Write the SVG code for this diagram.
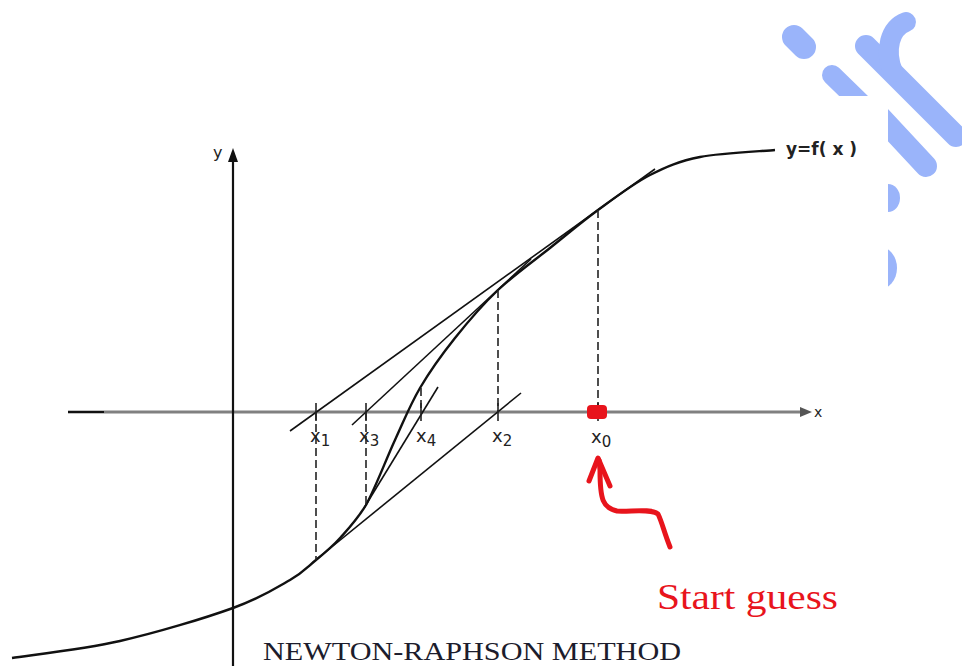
<svg xmlns="http://www.w3.org/2000/svg" width="962" height="669" viewBox="0 0 962 669">
<style>
.blue{stroke:#9ab4fa;fill:none;stroke-linecap:round}
.tan{stroke:#111;stroke-width:1.6;fill:none}
.dash{stroke:#222;stroke-width:1.6;stroke-dasharray:8 4;fill:none}
.tick{stroke:#222;stroke-width:1.6}
.lbl{font-family:"DejaVu Sans",sans-serif;fill:#222}
.sub{font-family:"DejaVu Sans",sans-serif;fill:#222;font-size:15px}
</style>
<rect width="962" height="669" fill="#fff"/>
<g id="blue-strokes">
  <line class="blue" x1="794" y1="37" x2="804" y2="47" stroke-width="24"/>
  <line class="blue" x1="832" y1="75" x2="870" y2="112" stroke-width="20"/>
  <line class="blue" x1="866" y1="46" x2="956" y2="136" stroke-width="22"/>
  <path class="blue" d="M893,72 C884,50 890,28 906,22" stroke-width="20"/>
  <line class="blue" x1="872" y1="108" x2="926" y2="166" stroke-width="22"/>
  <ellipse cx="888" cy="198" rx="12" ry="14" fill="#9ab4fa"/>
  <ellipse cx="878" cy="268" rx="19" ry="22" fill="#9ab4fa"/>
  <rect x="0" y="96" width="888" height="573" fill="#fff"/>
</g>
<g id="axes">
  <line x1="68" y1="412" x2="804" y2="412" stroke="#808080" stroke-width="3"/>
  <line x1="68" y1="412" x2="104" y2="412" stroke="#111" stroke-width="2"/>
  <path d="M812,412 L800,407 L800,417 Z" fill="#555"/>
  <line x1="233" y1="156" x2="233" y2="666" stroke="#111" stroke-width="2.2"/>
  <path d="M233,148 L228,162 L238,162 Z" fill="#111"/>
  <text class="lbl" x="213" y="158" font-size="16">y</text>
  <text class="lbl" x="814" y="417" font-size="14">x</text>
</g>
<g id="curve">
  <path d="M12,658 C30,655.2 83.2,649.3 120,641 C156.8,632.7 204.7,618.2 233,608 C261.3,597.8 276.2,588 290,580 C303.8,572 307.7,566.7 316,560 C324.3,553.3 332,547 341,537 C350,527 357.5,519 366,505 C375.2,488.3 386,459.5 395,440 C404,420.5 410,405 420,388 C430,371 442,354.3 455,338 C468,321.7 482.2,305 498,290 C513.8,275 533.3,261.3 550,248 C566.7,234.7 581.3,222.2 598,210 C614.7,197.8 633,183.8 650,175 C667,166.2 679.2,161.2 700,157 C720.8,152.8 762.5,151.2 775,150" fill="none" stroke="#111" stroke-width="2.4"/>
  <text class="lbl" x="786" y="155" font-size="17" font-weight="bold">y=f( x )</text>
</g>
<g id="connectors">
  <line class="tan" x1="290" y1="431" x2="655" y2="169"/>
  <line class="tan" x1="312" y1="563" x2="521" y2="393"/>
  <line class="tan" x1="352" y1="425" x2="531" y2="259"/>
  <line class="tan" x1="364" y1="508" x2="438" y2="387"/>
  <line class="dash" x1="598" y1="210" x2="598" y2="412"/>
  <line class="dash" x1="498" y1="290" x2="498" y2="412"/>
  <line class="dash" x1="316" y1="412" x2="316" y2="560"/>
  <line class="dash" x1="366" y1="412" x2="366" y2="505"/>
  <line class="dash" x1="421" y1="388" x2="421" y2="412"/>
  <line class="tick" x1="316" y1="403" x2="316" y2="421"/>
  <line class="tick" x1="366" y1="403" x2="366" y2="421"/>
  <line class="tick" x1="421" y1="403" x2="421" y2="421"/>
  <line class="tick" x1="498" y1="403" x2="498" y2="421"/>
  <line class="tick" x1="598" y1="403" x2="598" y2="421"/>
</g>
<g id="labels">
  <text class="lbl" x="310" y="442" font-size="18">x<tspan class="sub" dy="4">1</tspan></text>
  <text class="lbl" x="359" y="442" font-size="18">x<tspan class="sub" dy="4">3</tspan></text>
  <text class="lbl" x="416" y="442" font-size="18">x<tspan class="sub" dy="4">4</tspan></text>
  <text class="lbl" x="492" y="442" font-size="18">x<tspan class="sub" dy="4">2</tspan></text>
  <text class="lbl" x="591" y="443" font-size="18">x<tspan class="sub" dy="4">0</tspan></text>
</g>
<g id="start-guess">
  <rect x="587" y="405" width="20" height="14" rx="4" fill="#e8141c"/>
  <path d="M670,547 C664,532 662,522 658,514 C650,508 630,512 617,511 C603,508 600,500 600,470 L599,460" fill="none" stroke="#e8141c" stroke-width="5" stroke-linecap="round" stroke-linejoin="round"/>
  <path d="M589,481 L598,458 L610,486" fill="none" stroke="#e8141c" stroke-width="5" stroke-linecap="round" stroke-linejoin="round"/>
  <text x="657" y="609" font-family="Liberation Serif, serif" font-size="36" fill="#e8141c" textLength="181" lengthAdjust="spacingAndGlyphs">Start guess</text>
</g>
<text id="title" x="263" y="660" font-family="Liberation Serif, serif" font-size="25" fill="#1c1c2c" textLength="418" lengthAdjust="spacingAndGlyphs">NEWTON-RAPHSON METHOD</text>
</svg>
